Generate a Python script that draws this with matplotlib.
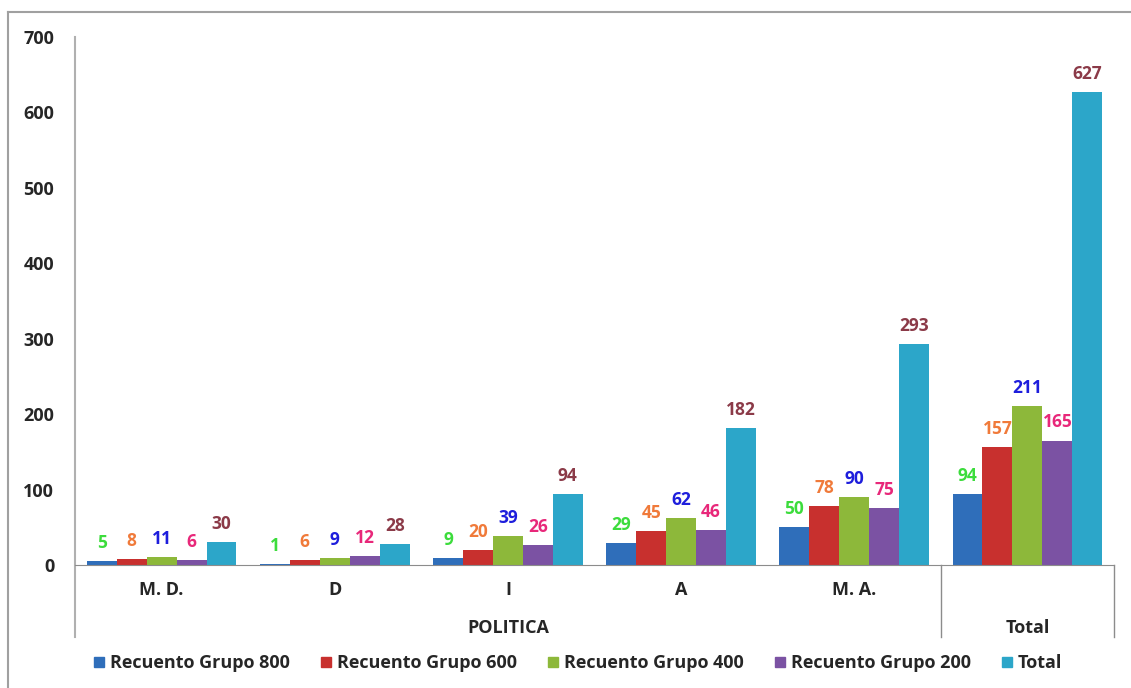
import numpy as np
import matplotlib.pyplot as plt
from matplotlib.lines import Line2D

plt.rcParams['font.family'] = ['Open Sans', 'DejaVu Sans']

categories = ['M. D.', 'D', 'I', 'A', 'M. A.', '']
series_names = ['Recuento Grupo 800', 'Recuento Grupo 600', 'Recuento Grupo 400',
                'Recuento Grupo 200', 'Total']
grupo800 = [5, 1, 9, 29, 50, 94]
grupo600 = [8, 6, 20, 45, 78, 157]
grupo400 = [11, 9, 39, 62, 90, 211]
grupo200 = [6, 12, 26, 46, 75, 165]
total = [30, 28, 94, 182, 293, 627]
y_ticks = [0, 100, 200, 300, 400, 500, 600, 700]

bar_colors = ['#2F6EBA', '#C8302E', '#8DB83A', '#7B52A3', '#2CA6C9']
label_colors = ['#3CDC3C', '#F07A3A', '#1E1EDC', '#E8287A', '#8B3A48']
txt_color = '#262626'

W, H = 1131, 688
fig = plt.figure(figsize=(W / 100, H / 100), dpi=100)
ax_left, ax_right, ax_bottom, ax_top = 75, 1114, 565, 37
ax = fig.add_axes([ax_left / W, 1 - ax_bottom / H,
                   (ax_right - ax_left) / W, (ax_bottom - ax_top) / H])

data = [grupo800, grupo600, grupo400, grupo200, total]
x = np.arange(len(categories)) + 0.5
bw = 0.173
for i, (vals, name) in enumerate(zip(data, series_names)):
    pos = x + (i - 2) * bw
    ax.bar(pos, vals, bw, color=bar_colors[i], label=name, zorder=2)
    for p, v in zip(pos, vals):
        ax.annotate(str(v), (p, v), xytext=(0, 13), textcoords='offset points',
                    ha='center', va='center', fontsize=12.5, fontweight='bold',
                    color=label_colors[i])

ax.set_xlim(0, len(categories))
ax.set_ylim(0, 700)
ax.set_yticks(y_ticks)
ax.set_yticklabels([str(t) for t in y_ticks], fontsize=13, fontweight='bold', color=txt_color)
ax.tick_params(axis='y', length=0, pad=15)
ax.set_xticks([])
for s in ['top', 'right', 'left']:
    ax.spines[s].set_visible(False)
ax.spines['bottom'].set_color('#8C8C8C')

# axis line and category separators extending below the baseline
tr = ax.get_xaxis_transform()
drop = -(637 - ax_bottom) / (ax_bottom - ax_top)
ax.plot([0, 0], [1.0, drop], transform=tr, color='#B0B0B0', lw=1.5, clip_on=False)
for xs in [5, 6]:
    ax.plot([xs, xs], [0, drop], transform=tr, color='#8C8C8C', lw=1, clip_on=False)

lvl1 = -(590 - ax_bottom) / (ax_bottom - ax_top)
lvl2 = -(628 - ax_bottom) / (ax_bottom - ax_top)
for xc, c in zip(x, categories):
    ax.text(xc, lvl1, c, transform=tr, ha='center', va='center',
            fontsize=13, fontweight='bold', color=txt_color)
ax.text(2.5, lvl2, 'POLITICA', transform=tr, ha='center', va='center',
        fontsize=13, fontweight='bold', color=txt_color)
ax.text(5.5, lvl2, 'Total', transform=tr, ha='center', va='center',
        fontsize=13, fontweight='bold', color=txt_color)

handles = [Line2D([], [], marker='s', ls='', color=c, markersize=7) for c in bar_colors]
leg = fig.legend(handles, series_names, loc='center', bbox_to_anchor=(578 / W, 1 - 663 / H),
                 ncol=5, frameon=False, handlelength=0.6, handletextpad=0.3,
                 columnspacing=1.7, prop={'size': 13, 'weight': 'bold'})
for t in leg.get_texts():
    t.set_color(txt_color)

# outer chart border (left and top)
fig.add_artist(Line2D([8 / W, 8 / W], [0, 1 - 12 / H], color='#A0A0A0', lw=1.5))
fig.add_artist(Line2D([8 / W, 1], [1 - 12 / H, 1 - 12 / H], color='#A0A0A0', lw=1.5))

fig.savefig('out.png', dpi=100)
